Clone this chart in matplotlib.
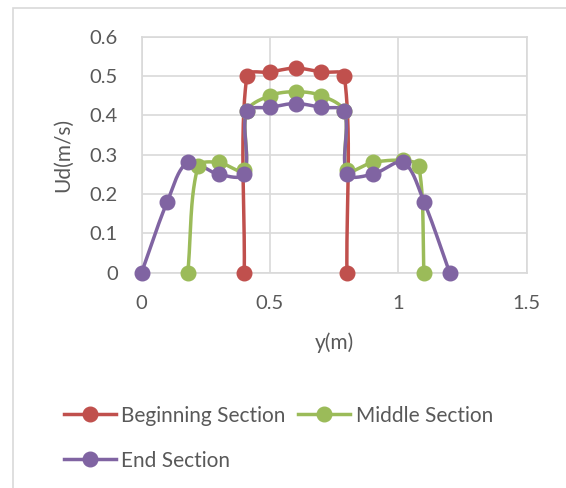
import numpy as np
import matplotlib
matplotlib.use('Agg')
import matplotlib.pyplot as plt
from matplotlib.patches import Rectangle

plt.rcParams['font.family'] = ['Lato', 'DejaVu Sans']

# velocity profiles across the channel width
beg_y = [0.4, 0.41, 0.5, 0.6, 0.7, 0.79, 0.8]
beg_u = [0, 0.5, 0.51, 0.52, 0.51, 0.5, 0]

mid_y = [0.18, 0.22, 0.3, 0.4, 0.41, 0.5, 0.6, 0.7, 0.79, 0.8, 0.9, 1.02, 1.08, 1.1]
mid_u = [0, 0.27, 0.28, 0.26, 0.41, 0.45, 0.46, 0.45, 0.41, 0.26, 0.28, 0.285, 0.27, 0]

end_y = [0, 0.1, 0.18, 0.3, 0.4, 0.41, 0.5, 0.6, 0.7, 0.79, 0.8, 0.9, 1.02, 1.1, 1.2]
end_u = [0, 0.18, 0.28, 0.25, 0.25, 0.41, 0.42, 0.43, 0.42, 0.41, 0.25, 0.25, 0.28, 0.18, 0]

names = ['Beginning Section', 'Middle Section', 'End Section']
colors = ['#C0504D', '#9BBB59', '#8064A2']
txt_c = '#595959'
grid_c = '#D9D9D9'

W, H = 566, 488
ax_box = [141.6, 272.5, 526.6, 36.7]   # left, bottom, right, top in pixels
xr, yr = (0, 1.5), (0, 0.6)


def smooth(x, y, n=40):
    # bezier through the points; tangents weighted by segment length on screen
    sx = (ax_box[2] - ax_box[0]) / (xr[1] - xr[0])
    sy = (ax_box[1] - ax_box[3]) / (yr[1] - yr[0])
    p = np.column_stack([np.array(x) * sx, np.array(y) * sy])
    p = np.vstack([p[0], p, p[-1]])
    d = np.linalg.norm(np.diff(p, axis=0), axis=1)
    out = []
    t = np.linspace(0, 1, n)[:, None]
    for i in range(1, len(p) - 2):
        p0, p1, p2, p3 = p[i - 1], p[i], p[i + 1], p[i + 2]
        d01, d12, d23 = d[i - 1], d[i], d[i + 1]
        f1 = d12 / (d01 + d12) / 3 if d01 + d12 > 0 else 0
        f2 = d12 / (d12 + d23) / 3 if d12 + d23 > 0 else 0
        b1 = p1 + (p2 - p0) * f1
        b2 = p2 - (p3 - p1) * f2
        seg = ((1 - t) ** 3) * p1 + 3 * ((1 - t) ** 2) * t * b1 + 3 * (1 - t) * t ** 2 * b2 + t ** 3 * p2
        out.append(seg)
    s = np.vstack(out)
    return s[:, 0] / sx, s[:, 1] / sy


fig = plt.figure(figsize=(W / 100, H / 100), dpi=100)
fig.patches.append(Rectangle((13 / W, -0.1), 1.2, (H - 8) / H + 0.1,
                             transform=fig.transFigure, fill=False,
                             edgecolor=grid_c, linewidth=1.2))
ax = fig.add_axes([ax_box[0] / W, (H - ax_box[1]) / H,
                   (ax_box[2] - ax_box[0]) / W, (ax_box[1] - ax_box[3]) / H])

handles = []
for xs, ys, c, name in zip([beg_y, mid_y, end_y], [beg_u, mid_u, end_u], colors, names):
    sx, sy = smooth(xs, ys)
    ax.plot(sx, sy, color=c, lw=2.5, solid_capstyle='round', zorder=3, clip_on=False)
    ax.plot(xs, ys, 'o', color=c, ms=10.5, zorder=4, clip_on=False)
    h, = ax.plot([], [], '-o', color=c, lw=2.5, ms=10.5, label=name)
    handles.append(h)

ax.set_xlim(*xr)
ax.set_ylim(*yr)
ax.set_xticks([0, 0.5, 1, 1.5])
ax.set_xticklabels(['0', '0.5', '1', '1.5'])
ax.set_yticks(np.arange(0, 0.61, 0.1))
ax.set_yticklabels(['0', '0.1', '0.2', '0.3', '0.4', '0.5', '0.6'])
ax.grid(True, color=grid_c, lw=1.2, zorder=0)
ax.set_axisbelow(True)
for s in ax.spines.values():
    s.set_color(grid_c)
    s.set_linewidth(1.2)
ax.tick_params(length=0, labelsize=14.5, labelcolor=txt_c)
ax.tick_params(axis='y', pad=17)
ax.tick_params(axis='x', pad=16)
ax.set_xlabel('y(m)', fontsize=15, color=txt_c, labelpad=15)
ax.set_ylabel('Ud(m/s)', fontsize=15, color=txt_c, labelpad=12)

# two entries on the first row, the third below the first
order = [handles[0], handles[2], handles[1]]
fig.legend(handles=order, ncol=2, loc='upper left', bbox_to_anchor=(45 / W, 1 - 387 / H),
           frameon=False, fontsize=15, labelcolor=txt_c, handlelength=2.5,
           handletextpad=0.25, columnspacing=0.62, labelspacing=1.2)

fig.savefig('out.png', dpi=100)
